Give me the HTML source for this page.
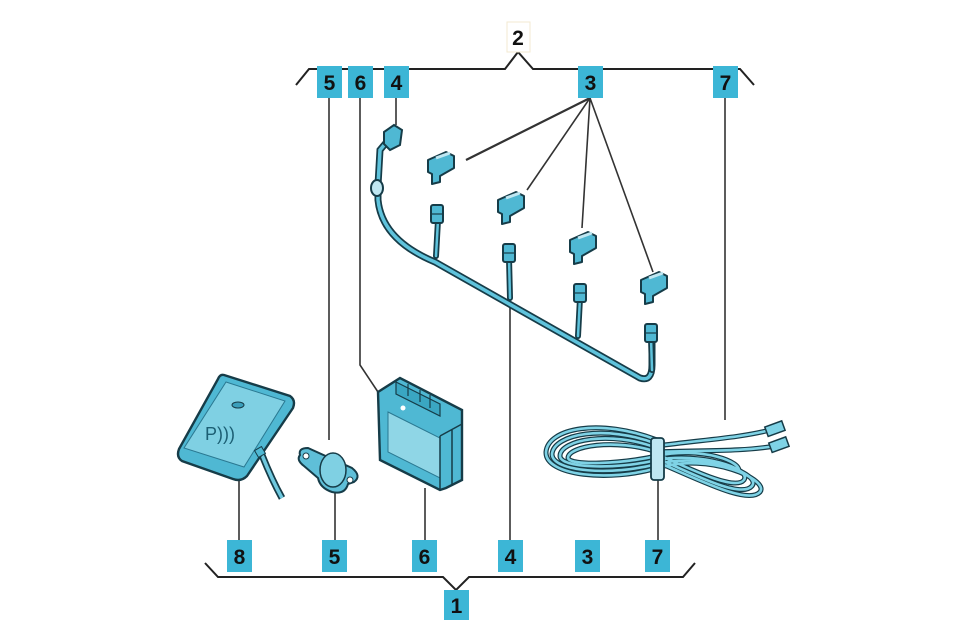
<!DOCTYPE html>
<html><head><style>
html,body{margin:0;padding:0;background:#fff;}
svg{display:block;}
text{font-family:"Liberation Sans",sans-serif;font-size:21px;fill:#111;text-anchor:middle;}
</style></head><body>
<svg width="960" height="640" viewBox="0 0 960 640" xmlns="http://www.w3.org/2000/svg">
<defs>
<g id="sensor">
<path d="M-14,-6 L4,-14 L12,-10 L12,2 L-2,10 L-2,16 L-10,18 L-10,8 L-14,6 Z" fill="#4fb8d3" stroke="#163c48" stroke-width="2" stroke-linejoin="round"/>
<path d="M-6,-8 L8,-13" stroke="#bfe7f2" stroke-width="3"/>
</g>
<g id="plug">
<rect x="-6" y="-9" width="12" height="18" rx="2" fill="#4fb8d3" stroke="#163c48" stroke-width="2"/>
<line x1="-6" y1="0" x2="6" y2="0" stroke="#163c48" stroke-width="1.2"/>
</g>
<g id="loop">
<ellipse cx="0" cy="0" rx="1" ry="1"/>
</g>
</defs>

<polyline points="296,85 309,69 505,69 518,52 533,69 740,69 754,85" fill="none" stroke="#222" stroke-width="2"/>
<polyline points="205,563 218,577 443,577 456,590 469,577 683,577 695,563" fill="none" stroke="#222" stroke-width="2"/>

<g stroke="#333" stroke-width="1.6" fill="none">
<line x1="329" y1="98" x2="329" y2="440"/>
<polyline points="360,98 360,365 378,392"/>
<line x1="396" y1="98" x2="396" y2="125"/>
<line x1="590" y1="98" x2="466" y2="160" stroke-width="2.2"/>
<line x1="590" y1="98" x2="527" y2="190"/>
<line x1="590" y1="98" x2="582" y2="228"/>
<line x1="590" y1="98" x2="653" y2="272"/>
<line x1="725" y1="98" x2="725" y2="420"/>
<line x1="239" y1="480" x2="239" y2="540"/>
<line x1="335" y1="492" x2="335" y2="540"/>
<line x1="425" y1="488" x2="425" y2="540"/>
<line x1="510" y1="300" x2="510" y2="540"/>
<line x1="658" y1="478" x2="658" y2="540"/>
</g>

<g fill="none" stroke-linecap="round">
<path d="M390,138 L380,150 L378,185 L378,200 Q382,240 435,262 L640,378 Q652,382 652,365 L652,342" stroke="#163c48" stroke-width="7"/>
<path d="M390,138 L380,150 L378,185 L378,200 Q382,240 435,262 L640,378 Q652,382 652,365 L652,342" stroke="#5fc3dc" stroke-width="3.5"/>
<g stroke="#163c48" stroke-width="6"><path d="M438,220 L436,256"/><path d="M509,258 L510,298"/><path d="M580,298 L578,336"/><path d="M651,338 L652,370"/></g>
<g stroke="#5fc3dc" stroke-width="2.5"><path d="M438,220 L436,256"/><path d="M509,258 L510,298"/><path d="M580,298 L578,336"/><path d="M651,338 L652,370"/></g>
</g>
<ellipse cx="377" cy="188" rx="6" ry="8" fill="#bfe7f2" stroke="#163c48" stroke-width="2"/>
<path d="M384,132 L394,125 L402,130 L400,145 L390,150 L384,144 Z" fill="#4fb8d3" stroke="#163c48" stroke-width="2"/>
<use href="#plug" x="437" y="214"/><use href="#plug" x="509" y="253"/><use href="#plug" x="580" y="293"/><use href="#plug" x="651" y="333"/>
<use href="#sensor" x="442" y="166"/><use href="#sensor" x="512" y="206"/><use href="#sensor" x="584" y="246"/><use href="#sensor" x="655" y="286"/>

<!-- part 8 -->
<path d="M262,455 Q272,480 282,498" stroke="#163c48" stroke-width="7" fill="none"/>
<path d="M262,455 Q272,480 282,498" stroke="#6ec8de" stroke-width="3.5" fill="none"/>
<path d="M224,375 L290,396 Q296,400 293,408 L247,476 Q241,482 233,479 L182,461 Q176,457 179,449 L218,379 Q220,374 224,375 Z" fill="#4fb8d3" stroke="#163c48" stroke-width="2.4"/>
<path d="M226,382 L285,401 L244,467 L184,448 Z" fill="#7fd0e3" stroke="#2a7891" stroke-width="1"/>
<ellipse cx="238" cy="405" rx="6" ry="3" fill="#3a9fbb" stroke="#163c48"/>
<text x="220" y="440" style="font-size:18px;fill:#1c5f74">P)))</text>
<rect x="256" y="448" width="8" height="8" fill="#4fb8d3" stroke="#163c48" transform="rotate(-30 260 452)"/>

<!-- part 5 -->
<path d="M300,455 Q298,448 308,448 L352,468 Q362,476 354,482 L348,484 Q345,495 332,492 Q320,488 318,478 L304,466 Q296,460 300,455 Z" fill="#5fbfd8" stroke="#163c48" stroke-width="2"/>
<ellipse cx="333" cy="470" rx="13" ry="17" fill="#7fd0e3" stroke="#163c48" stroke-width="1.5"/>
<circle cx="306" cy="456" r="3" fill="#fff" stroke="#163c48"/><circle cx="350" cy="480" r="3" fill="#fff" stroke="#163c48"/>

<!-- part 6 -->
<path d="M378,392 L400,378 L462,410 L462,480 L446,488 L440,490 L380,460 Z" fill="#4fb8d3" stroke="#163c48" stroke-width="2.4"/>
<path d="M388,412 L440,438 L440,478 L388,452 Z" fill="#8fd6e6" stroke="#2a7891"/>
<path d="M440,436 L462,424 M440,436 L440,490 M452,430 L452,486" stroke="#163c48" stroke-width="1.5"/>
<path d="M396,382 L440,404 L440,416 L396,394 Z" fill="#3aa6c2" stroke="#163c48" stroke-width="1.2"/>
<path d="M408,384 L408,396 M420,390 L420,402 M430,395 L430,408" stroke="#163c48" stroke-width="1.2"/>
<circle cx="403" cy="408" r="2.5" fill="#fff"/>

<!-- part 7 coil -->
<g fill="none">
<g stroke="#163c48" stroke-width="5">
<path d="M657,440 C600,418 548,428 546,452 C545,476 610,482 657,468 C710,452 770,480 760,492 C748,505 700,480 657,462"/>
<path d="M657,444 C605,424 554,434 552,454 C552,472 612,476 657,464 C705,452 762,474 752,486 C742,498 700,478 657,458"/>
<path d="M657,448 C610,430 560,440 560,456 C560,468 615,470 657,460 C700,452 752,468 744,480 C736,490 700,474 657,454"/>
<path d="M657,452 C615,438 568,446 568,458 C570,466 620,464 657,456 C700,446 745,462 738,472"/>
<path d="M657,446 C700,440 740,438 770,430 M657,452 C700,450 740,452 775,446"/>
</g>
<g stroke="#7fd3e6" stroke-width="2.6">
<path d="M657,440 C600,418 548,428 546,452 C545,476 610,482 657,468 C710,452 770,480 760,492 C748,505 700,480 657,462"/>
<path d="M657,444 C605,424 554,434 552,454 C552,472 612,476 657,464 C705,452 762,474 752,486 C742,498 700,478 657,458"/>
<path d="M657,448 C610,430 560,440 560,456 C560,468 615,470 657,460 C700,452 752,468 744,480 C736,490 700,474 657,454"/>
<path d="M657,452 C615,438 568,446 568,458 C570,466 620,464 657,456 C700,446 745,462 738,472"/>
<path d="M657,446 C700,440 740,438 770,430 M657,452 C700,450 740,452 775,446"/>
</g>
</g>
<rect x="651" y="438" width="13" height="42" rx="3" fill="#bfe7f2" stroke="#163c48" stroke-width="1.8"/>
<rect x="766" y="424" width="18" height="10" fill="#7fd3e6" stroke="#163c48" stroke-width="1.5" transform="rotate(-20 774 429)"/>
<rect x="770" y="440" width="18" height="10" fill="#7fd3e6" stroke="#163c48" stroke-width="1.5" transform="rotate(-20 778 445)"/>

<g fill="#3cb6d6">
<rect x="317" y="66" width="25" height="32"/><rect x="348" y="66" width="25" height="32"/><rect x="384" y="66" width="25" height="32"/>
<rect x="578" y="66" width="25" height="32"/><rect x="713" y="66" width="25" height="32"/>
<rect x="227" y="540" width="25" height="32"/><rect x="322" y="540" width="25" height="32"/><rect x="412" y="540" width="25" height="32"/>
<rect x="498" y="540" width="25" height="32"/><rect x="575" y="540" width="25" height="32"/><rect x="645" y="540" width="25" height="32"/>
<rect x="444" y="590" width="25" height="30"/>
</g>
<rect x="507" y="22" width="23" height="30" fill="#fff" stroke="#f3ead0"/>
<g style="font-weight:bold">
<text x="518" y="45">2</text>
<text x="329.5" y="90">5</text><text x="360.5" y="90">6</text><text x="396.5" y="90">4</text><text x="590.5" y="90">3</text><text x="725.5" y="90">7</text>
<text x="239.5" y="564">8</text><text x="334.5" y="564">5</text><text x="424.5" y="564">6</text><text x="510.5" y="564">4</text><text x="587.5" y="564">3</text><text x="657.5" y="564">7</text>
<text x="456.5" y="613">1</text>
</g>
</svg>
</body></html>
